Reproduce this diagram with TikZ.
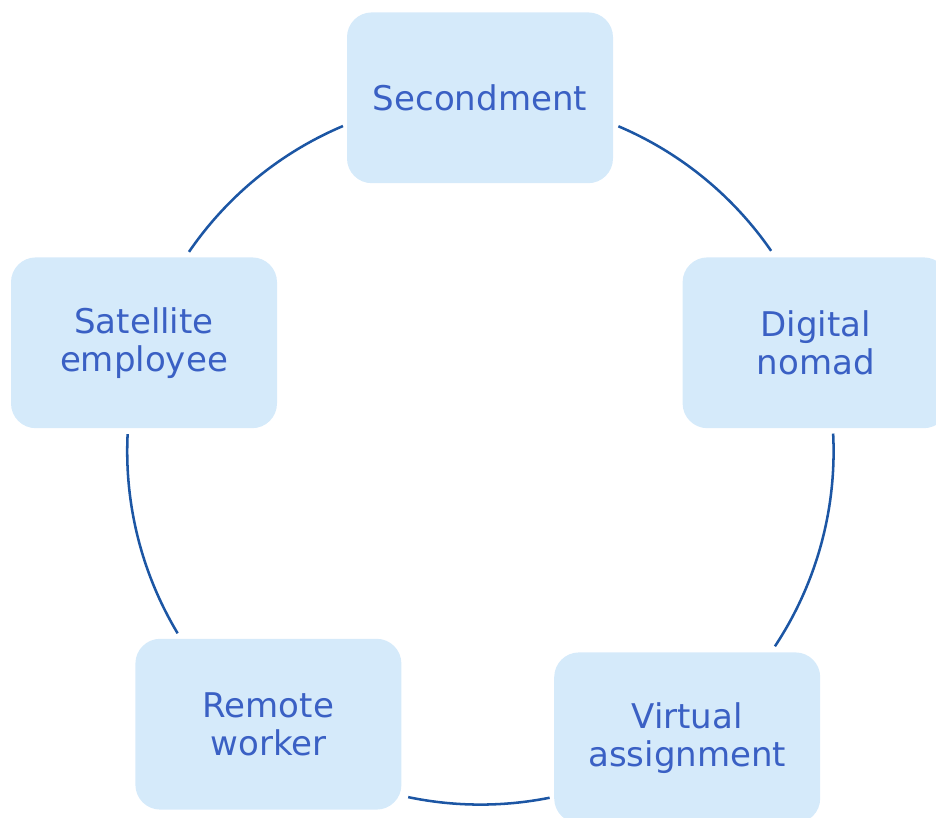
\documentclass[tikz,border=0pt]{standalone}
\usepackage{fontspec}
\setmainfont{DejaVu Sans}
\usepackage{xcolor}
\usepackage{tikz}
\usetikzlibrary{positioning, calc}
\definecolor{cyclefill}{RGB}{213,234,250}
\definecolor{cycletext}{RGB}{58,96,196}
\definecolor{ringblue}{RGB}{28,86,164}
\newcommand{\ringradius}{8.83}
\tikzset{
  cycleblock/.style={rectangle, rounded corners=0.62cm, fill=cyclefill,
    draw=none, minimum width=6.65cm, minimum height=4.27cm, inner sep=0pt,
    align=center, text=cycletext, font=\fontsize{24.2}{26.8}\selectfont},
  ring/.style={line width=1.8pt, color=ringblue},
}

\begin{document}
\begin{tikzpicture}
  \useasboundingbox (0,0) rectangle (23.4,20.425);
  \coordinate (hub) at (12.01,9.14);

  % the five ways of working, round the ring
  \node[cycleblock] (secondment) at (12.00,17.98) {Secondment};
  \node[cycleblock] (nomad)      at (20.39,11.855) {Digital\\nomad};
  \node[cycleblock] (virtual)    at (17.18,1.98) {Virtual\\assignment};
  \node[cycleblock] (remote)     at (6.71,2.32) {Remote\\worker};
  \node[cycleblock] (satellite)  at (3.60,11.855) {Satellite\\employee};

  % ring segments between neighbouring blocks
  \draw[ring] ([shift={(67.0:\ringradius)}]hub)
    arc[start angle=67.0, end angle=34.6, radius=\ringradius];
  \draw[ring] ([shift={(2.9:\ringradius)}]hub)
    arc[start angle=2.9, end angle=-33.5, radius=\ringradius];
  \draw[ring] ([shift={(-78.7:\ringradius)}]hub)
    arc[start angle=-78.7, end angle=-101.8, radius=\ringradius];
  \draw[ring] ([shift={(211.0:\ringradius)}]hub)
    arc[start angle=211.0, end angle=177.2, radius=\ringradius];
  \draw[ring] ([shift={(145.6:\ringradius)}]hub)
    arc[start angle=145.6, end angle=112.9, radius=\ringradius];
\end{tikzpicture}
\end{document}
